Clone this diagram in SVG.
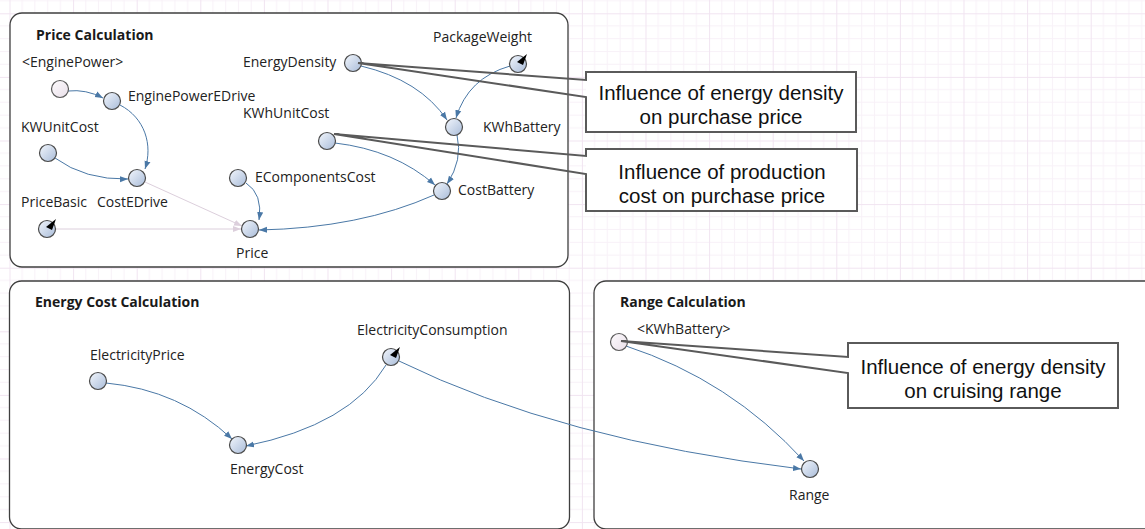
<svg xmlns="http://www.w3.org/2000/svg" width="1145" height="529" viewBox="0 0 1145 529">
  <defs>
    <pattern id="grid" width="63.6" height="63.6" patternUnits="userSpaceOnUse" x="9.5" y="13.3">
      <path d="M12.72,0V63.6M25.44,0V63.6M38.16,0V63.6M50.88,0V63.6M0,12.72H63.6M0,25.44H63.6M0,38.16H63.6M0,50.88H63.6" stroke="#f8f1f8" stroke-width="1" fill="none"/>
      <path d="M0.5,0V63.6M0,0.5H63.6" stroke="#f1e4f1" stroke-width="1" fill="none"/>
    </pattern>
    <linearGradient id="nodeFill" x1="0" y1="0" x2="1" y2="1">
      <stop offset="0" stop-color="#f2f6fc"/>
      <stop offset="1" stop-color="#a9bcd9"/>
    </linearGradient>
    <linearGradient id="shadowFill" x1="0" y1="0" x2="1" y2="1">
      <stop offset="0" stop-color="#fdfbfd"/>
      <stop offset="1" stop-color="#e9dfe9"/>
    </linearGradient>
    <marker id="arr" viewBox="0 0 10 10" refX="10" refY="5" markerWidth="8" markerHeight="8" orient="auto" markerUnits="userSpaceOnUse">
      <path d="M0,1.2 L10,5 L0,8.8 Z" fill="#4a78a6"/>
    </marker>
    <marker id="arrLight" viewBox="0 0 10 10" refX="10" refY="5" markerWidth="8" markerHeight="8" orient="auto" markerUnits="userSpaceOnUse">
      <path d="M0,1.2 L10,5 L0,8.8 Z" fill="#dccfdc"/>
    </marker>
    <style>
      .panel { fill: #ffffff; stroke: #3f3f3f; stroke-width: 1.3; }
      .title { font-family: "Open Sans", "Noto Sans", sans-serif; font-weight: bold; font-size: 14px; fill: #1a1a1a; }
      .lbl { font-family: "Open Sans", "Noto Sans", sans-serif; font-size: 14px; fill: #222222; }
      .node { fill: url(#nodeFill); stroke: #4a4a4a; stroke-width: 1.2; }
      .shadow { fill: url(#shadowFill); stroke: #5a5a5a; stroke-width: 1.2; }
      .gf { fill: #000000; }
      .link { fill: none; stroke: #4a78a6; stroke-width: 1; marker-end: url(#arr); }
      .link.light { stroke: #dccfdc; marker-end: url(#arrLight); }
      .callout { fill: #ffffff; stroke: none; }
      .callout-line { fill: none; stroke: #5a5a5a; stroke-width: 2; stroke-linejoin: miter; }
      .ctext { font-family: "Liberation Sans", Arial, sans-serif; font-size: 20.5px; fill: #111111; text-anchor: middle; }
    </style>
  </defs>

  <!-- background grid -->
  <rect x="0" y="0" width="1145" height="529" fill="#ffffff"/>
  <rect x="0" y="0" width="1145" height="529" fill="url(#grid)"/>

  <!-- views -->
  <g id="view-price">
    <rect class="panel" x="10" y="13" width="558" height="254" rx="12"/>
    <text class="title" x="36" y="40">Price Calculation</text>
  </g>
  <g id="view-energy-cost">
    <rect class="panel" x="9.5" y="281" width="560" height="248" rx="12"/>
    <text class="title" x="35" y="307">Energy Cost Calculation</text>
  </g>
  <g id="view-range">
    <rect class="panel" x="594" y="281" width="600" height="248" rx="12"/>
    <text class="title" x="620" y="307">Range Calculation</text>
  </g>

  <!-- causal links -->
  <g id="connectors">
    <path class="link" d="M68,91 Q86,89 103,98"/>
    <path class="link" d="M120,105 C145,118 153,145 145,169"/>
    <path class="link" d="M55,158 Q85,180 128,179"/>
    <path class="link light" d="M145,182 L242,226"/>
    <path class="link light" d="M56,229 L241,229"/>
    <path class="link" d="M246,183 Q263,194 259,220"/>
    <path class="link" d="M434,195 Q360,228 259,230"/>
    <path class="link" d="M361,66 Q420,80 447,120"/>
    <path class="link" d="M510,66 Q468,78 456,118"/>
    <path class="link" d="M457,135 Q463,160 447,184"/>
    <path class="link" d="M335,143 Q395,150 435,185"/>
    <path class="link" d="M106,383 Q180,390 232,439"/>
    <path class="link" d="M386,365 Q350,425 246,446"/>
    <path class="link" d="M399,361 Q560,440 801,469"/>
    <path class="link" d="M626,346 Q730,380 804,461"/>
  </g>

  <!-- variables: Price Calculation -->
  <g id="EnginePowerShadow">
    <circle class="shadow" cx="60" cy="89" r="8.5"/>
    <text class="lbl" x="22" y="67">&lt;EnginePower&gt;</text>
  </g>
  <g id="EnginePowerEDrive">
    <circle class="node" cx="112" cy="101" r="8.5"/>
    <text class="lbl" x="128" y="101">EnginePowerEDrive</text>
  </g>
  <g id="KWUnitCost">
    <circle class="node" cx="48" cy="153" r="8.5"/>
    <text class="lbl" x="21" y="132">KWUnitCost</text>
  </g>
  <g id="CostEDrive">
    <circle class="node" cx="137" cy="178" r="8.5"/>
    <text class="lbl" x="97" y="207">CostEDrive</text>
  </g>
  <g id="PriceBasic">
    <circle class="node" cx="47" cy="229" r="8.5"/>
    <path class="gf" d="M46,227 L56,219 L52,230 Z"/>
    <text class="lbl" x="21" y="207">PriceBasic</text>
  </g>
  <g id="EComponentsCost">
    <circle class="node" cx="238" cy="178" r="8.5"/>
    <text class="lbl" x="255" y="182">EComponentsCost</text>
  </g>
  <g id="Price">
    <circle class="node" cx="250" cy="229" r="8.5"/>
    <text class="lbl" x="236" y="258">Price</text>
  </g>
  <g id="EnergyDensity">
    <circle class="node" cx="353" cy="63" r="8.5"/>
    <text class="lbl" x="243" y="67">EnergyDensity</text>
  </g>
  <g id="PackageWeight">
    <circle class="node" cx="518" cy="64" r="8.5"/>
    <path class="gf" d="M517,62 L527,54 L523,65 Z"/>
    <text class="lbl" x="433" y="42">PackageWeight</text>
  </g>
  <g id="KWhBattery">
    <circle class="node" cx="454" cy="127" r="8.5"/>
    <text class="lbl" x="483" y="132">KWhBattery</text>
  </g>
  <g id="KWhUnitCost">
    <circle class="node" cx="327" cy="141" r="8.5"/>
    <text class="lbl" x="243" y="118">KWhUnitCost</text>
  </g>
  <g id="CostBattery">
    <circle class="node" cx="442" cy="191" r="8.5"/>
    <text class="lbl" x="458" y="195">CostBattery</text>
  </g>

  <!-- variables: Energy Cost Calculation -->
  <g id="ElectricityPrice">
    <circle class="node" cx="98" cy="381" r="8.5"/>
    <text class="lbl" x="90" y="360">ElectricityPrice</text>
  </g>
  <g id="ElectricityConsumption">
    <circle class="node" cx="391" cy="357" r="8.5"/>
    <path class="gf" d="M390,355 L400,347 L396,358 Z"/>
    <text class="lbl" x="357" y="335">ElectricityConsumption</text>
  </g>
  <g id="EnergyCost">
    <circle class="node" cx="238" cy="445" r="8.5"/>
    <text class="lbl" x="230" y="474">EnergyCost</text>
  </g>

  <!-- variables: Range Calculation -->
  <g id="KWhBatteryShadow">
    <circle class="shadow" cx="619" cy="342" r="8.5"/>
    <text class="lbl" x="637" y="334">&lt;KWhBattery&gt;</text>
  </g>
  <g id="Range">
    <circle class="node" cx="810" cy="469" r="8.5"/>
    <text class="lbl" x="789" y="500">Range</text>
  </g>

  <!-- annotation callouts -->
  <g id="note-density-price">
    <rect class="callout" x="586" y="72" width="270" height="60"/>
    <path class="callout-line" d="M586,80 V72 H856 V132 H586 V97 L358,63 Z"/>
    <text class="ctext" x="721" y="100">Influence of energy density</text>
    <text class="ctext" x="721" y="124">on purchase price</text>
  </g>
  <g id="note-cost-price">
    <rect class="callout" x="586" y="149" width="271" height="62"/>
    <path class="callout-line" d="M586,156 V149 H857 V211 H586 V174 L334,134 Z"/>
    <text class="ctext" x="722" y="178.5">Influence of production</text>
    <text class="ctext" x="722" y="202.5">cost on purchase price</text>
  </g>
  <g id="note-density-range">
    <rect class="callout" x="848" y="343" width="270" height="65"/>
    <path class="callout-line" d="M848,357 V343 H1118 V408 H848 V373 L621,341 Z"/>
    <text class="ctext" x="983" y="374">Influence of energy density</text>
    <text class="ctext" x="983" y="398">on cruising range</text>
  </g>
</svg>
